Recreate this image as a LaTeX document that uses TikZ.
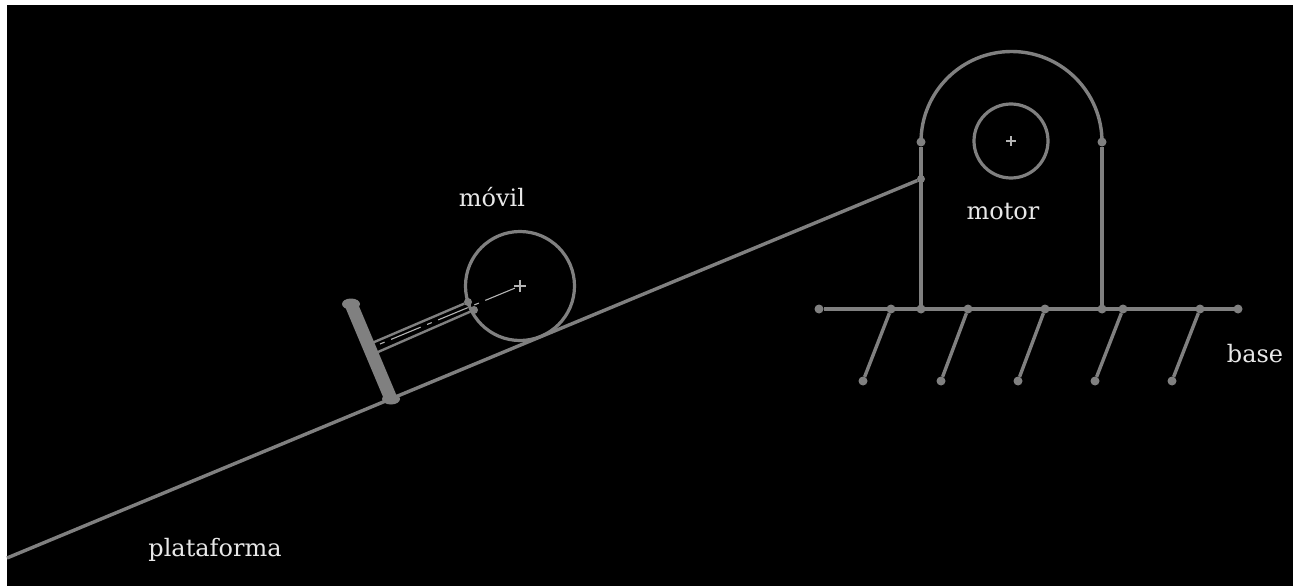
\documentclass[tikz,border=0pt]{standalone}
\usepackage{xcolor}
\usepackage{fontspec}
\setmainfont{DejaVu Serif}
\usepackage{tikz}
\usetikzlibrary{shapes.geometric}
\definecolor{linegray}{HTML}{808080}
\definecolor{axisgray}{HTML}{B4B4B4}
\definecolor{labelwhite}{HTML}{E8E8E8}

\begin{document}
\begin{tikzpicture}[
    x=1pt, y=-1pt,
    part/.style={draw=linegray, line width=3.4pt},
    thinpart/.style={draw=linegray, line width=2.4pt},
    axis/.style={draw=axisgray, line width=1.1pt},
    joint/.style={
      circle,
      fill=linegray,
      inner sep=0pt,
      outer sep=0pt,
      minimum size=9pt
    },
    smalljoint/.style={joint, minimum size=8pt},
    point/.style={inner sep=0pt, outer sep=0pt, minimum size=0pt},
    barcap/.style={
      ellipse,
      fill=linegray,
      inner sep=0pt,
      outer sep=0pt,
      minimum width=18pt,
      minimum height=11pt
    },
    roller/.style={
      circle,
      draw=linegray,
      line width=3.2pt,
      inner sep=0pt
    },
    label/.style={text=labelwhite, font=\fontsize{24}{26}\selectfont, inner sep=0pt}
  ]
    \useasboundingbox (0,0) rectangle (1293,586);
    \fill[white] (0,0) rectangle (1293,586);
    \fill[black] (7,5) rectangle (1293,586);

    % plataforma
    \node[point] (rampstart) at (7,558) {};
    \node[smalljoint] (rampend) at (921,179) {};
    \draw[part] (rampstart) -- (rampend);

    % movil
    \node[roller, minimum size=109pt] (wheel) at (520,286) {};
    \node[barcap] (bartop) at (351,304) {};
    \node[barcap] (barfoot) at (391,399) {};
    \draw[draw=linegray, line width=13pt] (bartop.center) -- (barfoot.center);
    \node[point] (rodtopa) at (372,343) {};
    \node[smalljoint] (rodtopb) at (468,302) {};
    \node[point] (rodlowa) at (378,352) {};
    \node[smalljoint] (rodlowb) at (474,310) {};
    \draw[thinpart] (rodtopa) -- (rodtopb);
    \draw[thinpart] (rodlowa) -- (rodlowb);
    \node[point] (rodaxis) at (380,344) {};
    \node[point] (wheelaxis) at (520,286) {};
    \draw[axis, dash pattern=on 5pt off 7pt on 32pt off 7pt] (rodaxis) -- (wheelaxis);
    \draw[axis] (514,286) -- (526,286) (520,280) -- (520,292);

    % motor
    \node[joint] (housingl) at (921,142) {};
    \node[joint] (housingr) at (1102,142) {};
    \node[joint] (footl) at (921,309) {};
    \node[joint] (footr) at (1102,309) {};
    \draw[part] (footl) -- (housingl);
    \draw[part] (footr) -- (housingr);
    \draw[part] (housingl.center) arc[start angle=180, end angle=0, radius=90.5pt];
    \node[roller, minimum size=74pt] (rotor) at (1011,141) {};
    \draw[axis] (1006,141) -- (1016,141) (1011,136) -- (1011,146);

    % base
    \node[joint] (basel) at (819,309) {};
    \node[joint] (baser) at (1238,309) {};
    \draw[part] (basel) -- (baser);
    \foreach \name/\xa/\xb in {a/891/863, b/968/941, c/1045/1018, d/1123/1095, e/1200/1172} {
      \node[joint] (top\name) at (\xa,309) {};
      \node[joint] (low\name) at (\xb,381) {};
      \draw[part] (top\name) -- (low\name);
    }

    \node[label, anchor=base] (movillabel) at (492,206) {móvil};
    \node[label, anchor=base] (motorlabel) at (1003,219) {motor};
    \node[label, anchor=base] (baselabel) at (1255,362) {base};
    \node[label, anchor=base] (plataformalabel) at (215,556) {plataforma};
  \end{tikzpicture}
\end{document}
